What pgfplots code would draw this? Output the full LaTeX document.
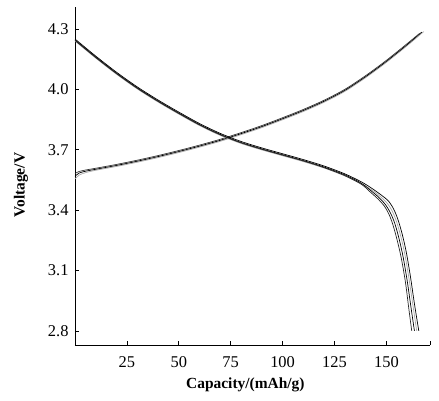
\documentclass[border=0pt]{standalone}
\usepackage{fontspec}
\setmainfont{Liberation Serif}
\usepackage{pgfplots}
\pgfplotsset{compat=1.18}
\begin{document}
\begin{tikzpicture}
\begin{axis}[
  scale only axis, width=355bp, height=338bp,
  xmin=0, xmax=171, ymin=2.730, ymax=4.409,
  axis lines=left, axis line style={-, line width=0.9pt},
  tick align=inside, major tick length=4bp, tick style={line width=0.8pt, black},
  xtick={25,50,75,100,125,150}, extra x ticks={171}, extra x tick labels={},
  ytick={2.8,3.1,3.4,3.7,4.0,4.3},
  yticklabel style={/pgf/number format/fixed, /pgf/number format/fixed zerofill, /pgf/number format/precision=1, xshift=-3bp},
  /pgf/number format/assume math mode=true,
  ticklabel style={font=\fontsize{16.5}{17}\selectfont},
  xticklabel style={yshift=-8bp},
  xlabel={\textbf{Capacity/(mAh/g)}}, ylabel={\textbf{Voltage/V}},
  every axis x label/.style={at={(rel axis cs:0.48,-0.118)}, anchor=center, font=\fontsize{15.5}{16}\selectfont},
  every axis y label/.style={at={(rel axis cs:-0.152,0.473)}, anchor=center, rotate=90, font=\fontsize{15.5}{16}\selectfont},
  every axis plot/.append style={smooth, tension=0.5, line width=0.7pt},
]
\coordinate (sw) at (rel axis cs:0,0);
% charge curves
\addplot[gray!70] coordinates {(0,3.555)(2,3.574)(5,3.586)(10,3.598)(20,3.617)(30,3.638)(40,3.661)(50,3.686)(60,3.713)(70,3.742)(80,3.775)(90,3.810)(100,3.849)(110,3.890)(120,3.936)(130,3.990)(140,4.058)(150,4.134)(160,4.217)(168,4.287)};
\addplot[black] coordinates {(0,3.568)(2,3.584)(5,3.593)(10,3.603)(20,3.622)(30,3.643)(40,3.666)(50,3.691)(60,3.718)(70,3.747)(80,3.780)(90,3.815)(100,3.854)(110,3.895)(120,3.941)(130,3.995)(140,4.063)(150,4.139)(160,4.222)(167,4.284)};
\addplot[black!80] coordinates {(0,3.582)(2,3.592)(5,3.599)(10,3.608)(20,3.627)(30,3.648)(40,3.671)(50,3.696)(60,3.723)(70,3.752)(80,3.785)(90,3.820)(100,3.859)(110,3.900)(120,3.946)(130,4.000)(140,4.068)(150,4.144)(160,4.227)(166,4.278)};
% discharge curves
\addplot[black] coordinates {(0,4.250)(10,4.165)(20,4.085)(30,4.012)(40,3.947)(50,3.887)(60,3.830)(70,3.781)(80,3.741)(90,3.709)(100,3.680)(110,3.651)(120,3.619)(130,3.580)(138,3.540)(143,3.508)(147.5,3.475)(151,3.445)(153.5,3.405)(155.5,3.355)(157.5,3.285)(159.5,3.195)(161.5,3.075)(163.5,2.935)(165.6,2.800)};
\addplot[gray!70] coordinates {(0,4.240)(10,4.155)(20,4.075)(30,4.002)(40,3.937)(50,3.877)(60,3.820)(70,3.771)(80,3.731)(90,3.699)(100,3.670)(110,3.641)(120,3.609)(130,3.570)(138,3.530)(143,3.500)(147,3.468)(150.3,3.435)(152.8,3.395)(154.8,3.345)(156.8,3.275)(158.8,3.185)(160.8,3.065)(162.8,2.925)(164.6,2.800)};
\addplot[black] coordinates {(0,4.245)(10,4.160)(20,4.080)(30,4.007)(40,3.942)(50,3.882)(60,3.825)(70,3.776)(80,3.736)(90,3.704)(100,3.675)(110,3.646)(120,3.614)(130,3.575)(138,3.533)(142.5,3.497)(146.5,3.462)(149.5,3.428)(152,3.385)(154,3.335)(156,3.262)(158,3.170)(160,3.050)(161.8,2.920)(163.5,2.800)};
\addplot[black!85] coordinates {(0,4.243)(10,4.158)(20,4.078)(30,4.005)(40,3.940)(50,3.880)(60,3.823)(70,3.774)(80,3.734)(90,3.702)(100,3.673)(110,3.644)(120,3.611)(130,3.571)(138,3.528)(142,3.492)(146,3.455)(149,3.420)(151.3,3.378)(153.2,3.325)(155.2,3.250)(157.2,3.160)(159.2,3.040)(160.8,2.910)(162.2,2.800)};
\end{axis}
\pgfresetboundingbox
\path[use as bounding box] ([shift={(-75bp,-56bp)}]sw) rectangle ([shift={(364bp,345bp)}]sw);
\end{tikzpicture}
\end{document}
